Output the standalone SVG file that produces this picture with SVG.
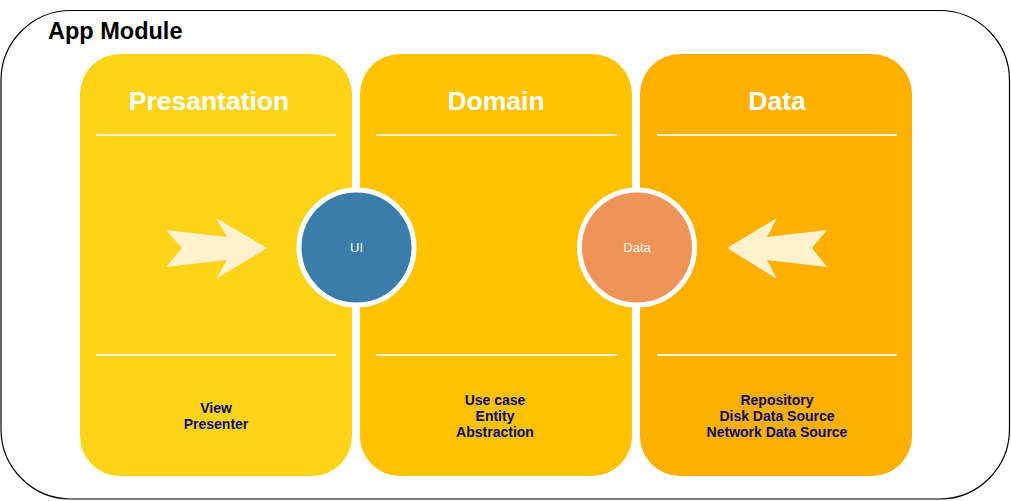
<svg xmlns="http://www.w3.org/2000/svg" width="1011" height="501" viewBox="0 0 1011 501">
<style>
.col{stroke:none}
.sep{stroke:#FFF2CC;stroke-width:2;fill:none}
.hdr{font-family:"Liberation Sans",Arial,sans-serif;font-weight:bold;font-size:26.5px;fill:#FFFFFF;text-anchor:middle}
.itm{font-family:"Liberation Sans",Arial,sans-serif;font-weight:bold;font-size:14px;fill:#0A0A6E;text-anchor:middle}
.cl{font-family:"Liberation Sans",Arial,sans-serif;font-size:13px;fill:#FFFFFF;text-anchor:middle}
.arr{fill:#FFF2CC;stroke:none}
.circ{stroke:#FFFFFF;stroke-width:5}
</style>
<rect width="1011" height="501" fill="#FFFFFF"/>
<g id="app-module">
<rect x="1" y="10.5" width="1008.5" height="488.5" rx="70" ry="70" fill="#FFFFFF" stroke="#000000" stroke-width="1.2"/>
<text x="48" y="39" font-family="Liberation Sans,Arial,sans-serif" font-weight="bold" font-size="23.5" fill="#000000">App Module</text>
</g>
<g id="presentation">
<rect class="col" x="80" y="54" width="272" height="422" rx="40" ry="40" fill="#FDD319"/>
<text class="hdr" x="209" y="110">Presantation</text>
<line class="sep" x1="96" y1="135" x2="336" y2="135"/>
<line class="sep" x1="96" y1="355" x2="336" y2="355"/>
<text class="itm" x="216" y="413">View</text>
<text class="itm" x="216" y="429">Presenter</text>
</g>
<g id="domain">
<rect class="col" x="360" y="54" width="272" height="422" rx="40" ry="40" fill="#FFC200"/>
<text class="hdr" x="496" y="110">Domain</text>
<line class="sep" x1="376" y1="135" x2="617" y2="135"/>
<line class="sep" x1="376" y1="355" x2="617" y2="355"/>
<text class="itm" x="495" y="405">Use case</text>
<text class="itm" x="495" y="421">Entity</text>
<text class="itm" x="495" y="437">Abstraction</text>
</g>
<g id="data">
<rect class="col" x="640" y="54" width="272" height="422" rx="40" ry="40" fill="#FFB000"/>
<text class="hdr" x="777" y="110">Data</text>
<line class="sep" x1="657" y1="135" x2="897" y2="135"/>
<line class="sep" x1="657" y1="355" x2="897" y2="355"/>
<text class="itm" x="777" y="405">Repository</text>
<text class="itm" x="777" y="421">Disk Data Source</text>
<text class="itm" x="777" y="437">Network Data Source</text>
</g>
<g id="connectors">
<polygon class="arr" points="166,230 227,237 216,218 267,248 216,279 227,260 166,267 182,248"/>
<polygon class="arr" points="827,230 767,237 777,218 727,248 777,279 767,260 827,267 812,248"/>
</g>
<g id="ui-node">
<circle class="circ" cx="356.5" cy="247.5" r="57.5" fill="#3A7DAA"/>
<text class="cl" x="356.5" y="252">UI</text>
</g>
<g id="data-node">
<circle class="circ" cx="637" cy="247.5" r="57.5" fill="#EF9456"/>
<text class="cl" x="637" y="252">Data</text>
</g>
</svg>
